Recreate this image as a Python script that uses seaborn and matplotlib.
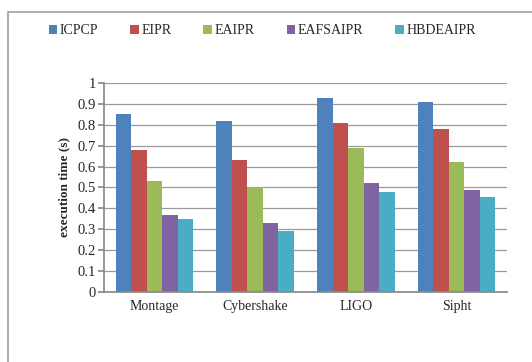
import matplotlib
matplotlib.use("Agg")
import matplotlib.pyplot as plt
import seaborn as sns
import pandas as pd
from matplotlib.patches import Rectangle

categories = ["Montage", "Cybershake", "LIGO", "Sipht"]
ICPCP = [0.85, 0.82, 0.93, 0.91]
EIPR = [0.68, 0.63, 0.81, 0.78]
EAIPR = [0.53, 0.50, 0.69, 0.62]
EAFSAIPR = [0.37, 0.33, 0.52, 0.49]
HBDEAIPR = [0.35, 0.29, 0.48, 0.455]
series_names = ["ICPCP", "EIPR", "EAIPR", "EAFSAIPR", "HBDEAIPR"]
colors = ["#4F81BD", "#C0504D", "#9BBB59", "#8064A2", "#4BACC6"]
yticks = [0, 0.1, 0.2, 0.3, 0.4, 0.5, 0.6, 0.7, 0.8, 0.9, 1]
ytick_labels = ["0", "0.1", "0.2", "0.3", "0.4", "0.5", "0.6", "0.7", "0.8", "0.9", "1"]

rows = []
for name, vals in zip(series_names, [ICPCP, EIPR, EAIPR, EAFSAIPR, HBDEAIPR]):
    for c, v in zip(categories, vals):
        rows.append({"workflow": c, "algorithm": name, "time": v})
df = pd.DataFrame(rows)

sns.set_theme(style="white")
plt.rcParams['font.family'] = ['Liberation Serif', 'DejaVu Serif']

fig = plt.figure(figsize=(5.32, 3.62), dpi=100)
ax = fig.add_axes([0.1955, 0.1934, 0.953 - 0.1955, 0.7707 - 0.1934])

sns.barplot(data=df, x="workflow", y="time", hue="algorithm", hue_order=series_names,
            order=categories, palette=colors, width=0.77, ax=ax, saturation=1,
            errorbar=None, edgecolor="none", legend=False)

ax.set_ylim(0, 1)
ax.set_xlim(-0.5, 3.5)
ax.set_yticks(yticks)
ax.set_yticklabels(ytick_labels, fontsize=10.5)
ax.yaxis.grid(True, color="#9a9a9a", linewidth=0.9)
ax.set_axisbelow(True)
for s in ["top", "right"]:
    ax.spines[s].set_visible(False)
ax.spines["left"].set_color("#8a8a8a")
ax.spines["bottom"].set_color("#8a8a8a")
ax.set_xticks([0, 1, 2, 3])
ax.set_xticklabels(categories, fontsize=10)
ax.set_xticks([-0.5, 0.5, 1.5, 2.5, 3.5], minor=True)
ax.tick_params(axis="x", which="major", length=0, pad=6)
ax.tick_params(axis="x", which="minor", length=4, color="#8a8a8a", direction="out")
ax.tick_params(axis="y", length=4, color="#8a8a8a", direction="out", pad=2)
ax.tick_params(axis="y", which="both", left=True)
ax.set_xlabel("")
ax.set_ylabel("execution time (s)", fontsize=9.5, fontweight="bold", labelpad=5)

handles = [Rectangle((0, 0), 1, 1, facecolor=c, edgecolor="none") for c in colors]
fig.legend(handles, series_names, loc="center left", bbox_to_anchor=(0.068, 0.915),
           ncol=5, frameon=False, fontsize=10, handlelength=0.6, handleheight=0.6,
           handletextpad=0.2, columnspacing=2.3)

border = Rectangle((8 / 532, -0.05), 1.2, 1 - 12 / 362 + 0.05, transform=fig.transFigure,
                   fill=False, edgecolor="#a0a0a0", linewidth=1.2, clip_on=False)
fig.patches.append(border)

fig.savefig("out.png", dpi=100)
